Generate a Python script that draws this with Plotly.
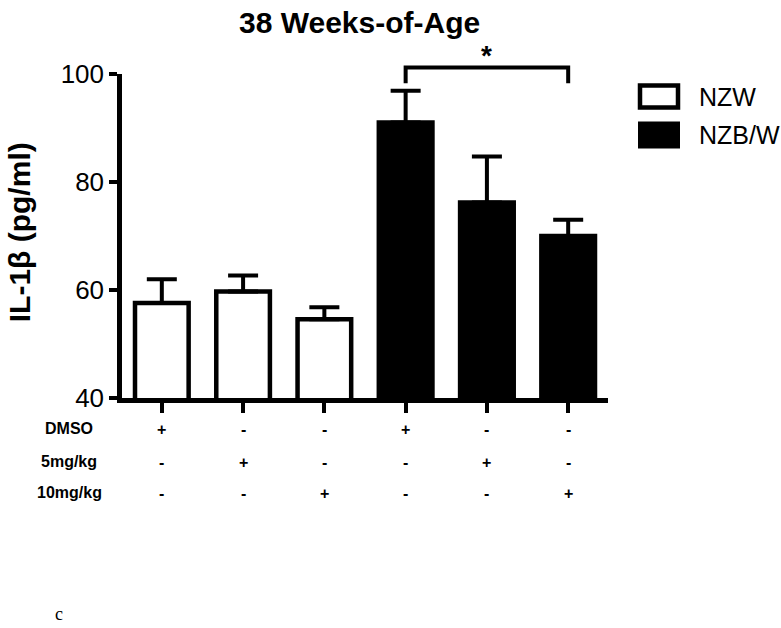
import plotly.graph_objects as go

# ---- data ----
groups = ["NZW", "NZB/W"]
nzw_x = [0, 1, 2]
nzw_mean = [57.6, 59.7, 54.6]
nzw_upper = [62.0, 62.7, 56.8]
nzbw_x = [3, 4, 5]
nzbw_mean = [91.0, 76.2, 70.0]
nzbw_upper = [96.9, 84.7, 73.0]
row_labels = ["DMSO", "5mg/kg", "10mg/kg"]
treat_dmso = ["+", "-", "-", "+", "-", "-"]
treat_5 = ["-", "+", "-", "-", "+", "-"]
treat_10 = ["-", "-", "+", "-", "-", "+"]
y_ticks = [40, 60, 80, 100]
sig_pair = [3, 5]
sig_label = "*"

# ---- layout geometry (pixels) ----
W, H = 781, 628
L, R, T, B = 122, 173, 73.5, 230
PW, PH = W - L - R, H - T - B
YMIN, YMAX = 40, 100

def px_x(px):
    return (px - L) / PW

def px_y(py):
    return (H - B - py) / PH

def val_y(v):
    return (v - YMIN) / (YMAX - YMIN)

FONT = "Arial, Liberation Sans, Helvetica, sans-serif"

fig = go.Figure()

fig.add_trace(go.Bar(
    x=nzw_x, y=nzw_mean, width=0.66, name=groups[0],
    marker=dict(color="white", line=dict(color="black", width=4.5)),
    error_y=dict(type="data", symmetric=False,
                 array=[u - m for u, m in zip(nzw_upper, nzw_mean)],
                 arrayminus=[0] * len(nzw_mean),
                 color="black", thickness=4, width=15),
    showlegend=False,
))
fig.add_trace(go.Bar(
    x=nzbw_x, y=nzbw_mean, width=0.66, name=groups[1],
    marker=dict(color="black", line=dict(color="black", width=4.5)),
    error_y=dict(type="data", symmetric=False,
                 array=[u - m for u, m in zip(nzbw_upper, nzbw_mean)],
                 arrayminus=[0] * len(nzbw_mean),
                 color="black", thickness=4, width=15),
    showlegend=False,
))

shapes = []
ann = []

# significance bracket
top_v, drop_v = 101.2, 98.3
shapes.append(dict(type="path", xref="x", yref="paper",
                   path=f"M {sig_pair[0]},{val_y(drop_v)} L {sig_pair[0]},{val_y(top_v)} "
                        f"L {sig_pair[1]},{val_y(top_v)} L {sig_pair[1]},{val_y(drop_v)}",
                   line=dict(color="black", width=4)))
ann.append(dict(x=(sig_pair[0] + sig_pair[1]) / 2, y=px_y(55), xref="x", yref="paper",
                text=f"<b>{sig_label}</b>", showarrow=False,
                font=dict(size=28, color="black", family=FONT), yanchor="middle"))

# legend
shapes.append(dict(type="rect", xref="paper", yref="paper",
                   x0=px_x(640), x1=px_x(678), y0=px_y(85), y1=px_y(107),
                   line=dict(color="black", width=4.5), fillcolor="white"))
shapes.append(dict(type="rect", xref="paper", yref="paper",
                   x0=px_x(638), x1=px_x(680), y0=px_y(121), y1=px_y(148),
                   line=dict(color="black", width=0), fillcolor="black"))
ann.append(dict(x=px_x(697), y=px_y(97), xref="paper", yref="paper", text=groups[0],
                showarrow=False, xanchor="left", yanchor="middle",
                font=dict(size=25, color="black", family=FONT)))
ann.append(dict(x=px_x(697), y=px_y(135), xref="paper", yref="paper", text=groups[1],
                showarrow=False, xanchor="left", yanchor="middle",
                font=dict(size=25, color="black", family=FONT)))

# treatment table
row_py = [429, 462, 493]
for lab, vals, py in zip(row_labels, [treat_dmso, treat_5, treat_10], row_py):
    ann.append(dict(x=px_x(69), y=px_y(py), xref="paper", yref="paper",
                    text=f"<b>{lab}</b>", showarrow=False, xanchor="center", yanchor="middle",
                    font=dict(size=16, color="black", family=FONT)))
    for i, v in enumerate(vals):
        ann.append(dict(x=i, y=px_y(py + 1), xref="x", yref="paper",
                        text=f"<b>{v}</b>", showarrow=False, xanchor="center", yanchor="middle",
                        font=dict(size=16, color="black", family=FONT)))

# title
ann.append(dict(x=px_x(359), y=px_y(22), xref="paper", yref="paper",
                text="<b>38 Weeks-of-Age</b>", showarrow=False,
                xanchor="center", yanchor="middle",
                font=dict(size=30, color="black", family=FONT)))
# y title
ann.append(dict(x=px_x(19), y=px_y(232), xref="paper", yref="paper",
                text="<b>IL-1β (pg/ml)</b>", showarrow=False, textangle=-90,
                xanchor="center", yanchor="middle",
                font=dict(size=30, color="black", family=FONT)))
# panel letter
ann.append(dict(x=px_x(59), y=px_y(614), xref="paper", yref="paper",
                text="c", showarrow=False, xanchor="center", yanchor="middle",
                font=dict(size=18, color="black", family="Liberation Serif, Times New Roman, serif")))

fig.update_layout(
    width=W, height=H,
    margin=dict(l=L, r=R, t=T, b=B, pad=0),
    paper_bgcolor="white", plot_bgcolor="white",
    barmode="overlay",
    showlegend=False,
    shapes=shapes, annotations=ann,
    font=dict(family=FONT, color="black"),
)
fig.update_xaxes(range=[-0.49, 5.49], showline=True, linecolor="black", linewidth=4.5,
                 ticks="outside", ticklen=10, tickwidth=4, tickcolor="black",
                 tickvals=[0, 1, 2, 3, 4, 5], showticklabels=False,
                 showgrid=False, zeroline=False, fixedrange=True)
fig.update_yaxes(range=[YMIN, YMAX], showline=True, linecolor="black", linewidth=4.5,
                 ticks="outside", ticklen=8, tickwidth=4, tickcolor="black",
                 tickvals=y_ticks, ticktext=[str(t) for t in y_ticks],
                 tickfont=dict(size=26, color="black", family=FONT),
                 showgrid=False, zeroline=False, fixedrange=True)

fig.write_html("out.html", config={"displayModeBar": False},
               post_script="document.body.style.margin='0px';document.body.style.overflow='hidden';")
